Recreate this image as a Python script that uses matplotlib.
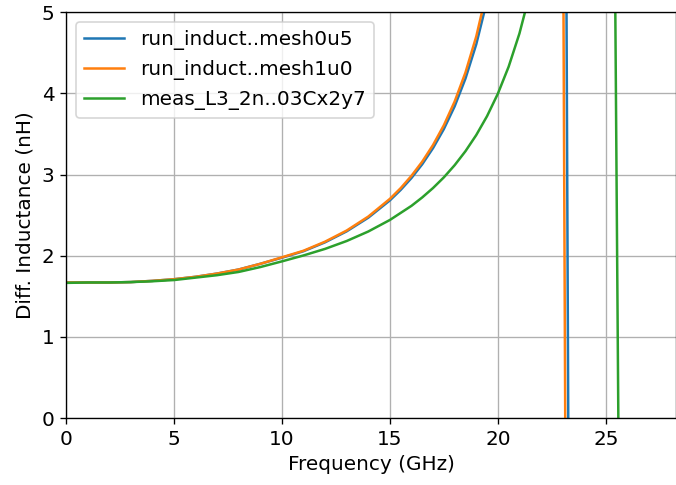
import numpy as np
import matplotlib
matplotlib.use("Agg")
import matplotlib.pyplot as plt

# frequency (GHz) / differential inductance (nH)
f_mesh0u5 = [0, 1, 2, 3, 4, 5, 6, 7, 8, 9, 10, 11, 12, 13, 14, 15, 15.5, 16, 16.5, 17,
             17.5, 18, 18.5, 19, 19.5, 20, 21, 22, 23.0, 23.4, 24, 26, 28.5]
L_mesh0u5 = [1.67, 1.67, 1.67, 1.675, 1.69, 1.71, 1.74, 1.78, 1.83, 1.90, 1.975, 2.055,
             2.165, 2.30, 2.468, 2.681, 2.81, 2.957, 3.127, 3.326, 3.56, 3.84, 4.182,
             4.604, 5.142, 6.0, 9.0, 15.5, 16.3, -8.8, -5.0, -2.0, -1.0]

f_mesh1u0 = [0, 1, 2, 3, 4, 5, 6, 7, 8, 9, 10, 11, 12, 13, 14, 15, 15.5, 16, 16.5, 17,
             17.5, 18, 18.5, 19, 19.5, 20, 21, 22, 22.9, 23.3, 24, 26, 28.5]
L_mesh1u0 = [1.67, 1.67, 1.67, 1.675, 1.69, 1.71, 1.74, 1.78, 1.83, 1.90, 1.98, 2.061,
             2.173, 2.31, 2.482, 2.70, 2.832, 2.984, 3.159, 3.364, 3.607, 3.899, 4.256,
             4.70, 5.27, 6.2, 9.0, 16.0, 13.8, -11.3, -5.0, -2.0, -1.0]

f_meas = [0, 1, 2, 3, 4, 5, 6, 7, 8, 9, 10, 11, 12, 13, 14, 15, 16, 16.5, 17, 17.5, 18,
          18.5, 19, 19.5, 20, 20.5, 21, 21.5, 22, 23, 24, 25.2, 25.8, 27, 28.5]
L_meas = [1.665, 1.67, 1.67, 1.675, 1.685, 1.70, 1.73, 1.76, 1.80, 1.86, 1.93, 2.003,
          2.084, 2.181, 2.298, 2.44, 2.614, 2.718, 2.834, 2.965, 3.115, 3.287, 3.486,
          3.719, 3.995, 4.328, 4.737, 5.248, 6.0, 8.5, 12.0, 13.6, -7.9, -3.0, -1.5]

plt.rcParams['font.size'] = 12

fig = plt.figure(figsize=(676 / 120, 485 / 120), dpi=120)
ax = fig.add_axes([0.0976, 0.138, 0.9024, 0.837])

ax.plot(f_mesh0u5, L_mesh0u5, label="run_induct..mesh0u5")
ax.plot(f_mesh1u0, L_mesh1u0, label="run_induct..mesh1u0")
ax.plot(f_meas, L_meas, label="meas_L3_2n..03Cx2y7")

ax.set_xlim(0, 28.25)
ax.set_ylim(0, 5)
ax.set_xlabel("Frequency (GHz)")
ax.set_ylabel("Diff. Inductance (nH)")
ax.grid(True)
ax.legend(loc="upper left")

fig.savefig("out.png", dpi=120)
